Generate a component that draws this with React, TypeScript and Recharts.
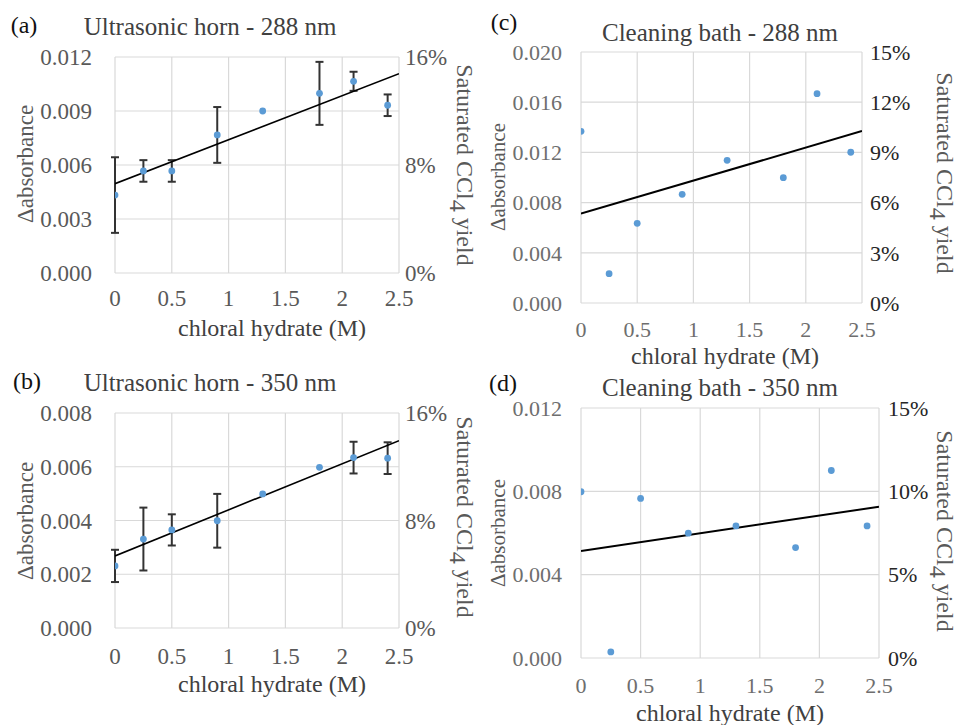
import React from 'react';
import { ComposedChart, Scatter, Line, XAxis, YAxis, CartesianGrid, ErrorBar } from 'recharts';

// chloral hydrate concentrations (M), shared by all four panels
const CONC = [0, 0.25, 0.5, 0.9, 1.3, 1.8, 2.1, 2.4];
const X_TICKS = [0, 0.5, 1, 1.5, 2, 2.5];
const TREND_X = [0, 2.5];

// (a) ultrasonic horn, 288 nm
const HORN_288 = [0.00433, 0.00567, 0.00567, 0.00767, 0.009, 0.00998, 0.01065, 0.00932];
const HORN_288_ERR = [0.0021, 0.0006, 0.0006, 0.00155, 0, 0.00175, 0.00053, 0.0006];
const HORN_288_TREND = [0.00496, 0.01107];
const HORN_288_TICKS = [0, 0.003, 0.006, 0.009, 0.012];

// (b) ultrasonic horn, 350 nm
const HORN_350 = [0.00231, 0.00331, 0.00365, 0.00399, 0.00499, 0.00598, 0.00634, 0.00632];
const HORN_350_ERR = [0.0006, 0.00117, 0.00058, 0.001, 0, 0, 0.00059, 0.00059];
const HORN_350_TREND = [0.00268, 0.00697];
const HORN_350_TICKS = [0, 0.002, 0.004, 0.006, 0.008];

const HORN_YIELD_TICKS = [0, 0.08, 0.16];

// (c) cleaning bath, 288 nm
const BATH_288 = [0.01368, 0.00234, 0.00635, 0.00866, 0.01137, 0.00999, 0.01668, 0.01201];
const BATH_288_TREND = [0.00712, 0.0137];
const BATH_288_TICKS = [0, 0.004, 0.008, 0.012, 0.016, 0.02];
const BATH_288_YIELD_TICKS = [0, 0.03, 0.06, 0.09, 0.12, 0.15];

// (d) cleaning bath, 350 nm
const BATH_350 = [0.00798, 0.00029, 0.00766, 0.00599, 0.00634, 0.0053, 0.009, 0.00634];
const BATH_350_TREND = [0.00514, 0.00726];
const BATH_350_TICKS = [0, 0.004, 0.008, 0.012];
const BATH_350_YIELD_TICKS = [0, 0.05, 0.1, 0.15];

const SERIF = '"Liberation Serif", "DejaVu Serif", serif';
const DOT = '#5b9bd5';
const GRID = '#d9d9d9';

type Box = { x: number; y: number; w: number; h: number };
type Plot = { left: number; top: number; right: number; bottom: number };

interface PanelProps {
  box: Box;
  plot: Plot;
  values: number[];
  errors?: number[];
  trend: number[];
  yTicks: number[];
  yieldTicks: number[];
  fontSize: number;
  leftColor: string;
  rightColor: string;
  leftGap: number;
  rightGap: number;
  xGap: number;
  lineWidth: number;
}

const dotShape = (p: any) => <circle cx={p.cx} cy={p.cy} r={3.4} fill={DOT} />;

const Panel: React.FC<PanelProps> = ({
  box, plot, values, errors, trend, yTicks, yieldTicks, fontSize,
  leftColor, rightColor, leftGap, rightGap, xGap, lineWidth,
}) => {
  const points = CONC.map((x, i) => ({ x, y: values[i], err: errors ? errors[i] : 0 }));
  const trendPts = TREND_X.map((x, i) => ({ x, y: trend[i] }));
  const tickStyle = (fill: string) => ({ fill, fontSize, fontFamily: SERIF });

  return (
    <div style={{ position: 'absolute', left: box.x, top: box.y }}>
      <ComposedChart
        width={box.w}
        height={box.h}
        margin={{ top: plot.top - box.y, left: 0, right: 0, bottom: 0 }}
        style={{ fontFamily: SERIF }}
      >
        <CartesianGrid yAxisId="abs" stroke={GRID} strokeWidth={1.2} />
        <XAxis
          type="number"
          dataKey="x"
          domain={[0, 2.5]}
          ticks={X_TICKS}
          interval={0}
          axisLine={false}
          tickLine={false}
          tickSize={0}
          tickMargin={xGap}
          height={box.y + box.h - plot.bottom}
          tick={tickStyle(leftColor)}
          allowDataOverflow
        />
        <YAxis
          yAxisId="abs"
          domain={[0, yTicks[yTicks.length - 1]]}
          ticks={yTicks}
          interval={0}
          width={plot.left - box.x}
          axisLine={false}
          tickLine={false}
          tickSize={0}
          tickMargin={leftGap}
          tick={tickStyle(leftColor)}
          tickFormatter={(v: number) => v.toFixed(3)}
          allowDataOverflow
        />
        <YAxis
          yAxisId="yield"
          orientation="right"
          domain={[0, yieldTicks[yieldTicks.length - 1]]}
          ticks={yieldTicks}
          interval={0}
          width={box.x + box.w - plot.right}
          axisLine={false}
          tickLine={false}
          tickSize={0}
          tickMargin={rightGap}
          tick={tickStyle(rightColor)}
          tickFormatter={(v: number) => `${Math.round(v * 100)}%`}
          allowDataOverflow
        />
        <Scatter yAxisId="abs" data={points} dataKey="y" fill={DOT} shape={dotShape} isAnimationActive={false}>
          {errors && <ErrorBar dataKey="err" direction="y" width={4} stroke="#333" strokeWidth={2} />}
        </Scatter>
        <Line
          yAxisId="abs"
          data={trendPts}
          dataKey="y"
          stroke="#000"
          strokeWidth={lineWidth}
          dot={false}
          activeDot={false}
          isAnimationActive={false}
        />
      </ComposedChart>
    </div>
  );
};

const Txt: React.FC<{ x: number; y: number; size: number; color: string; rotate?: number; children: React.ReactNode }> = ({
  x, y, size, color, rotate = 0, children,
}) => (
  <div
    style={{
      position: 'absolute',
      left: x,
      top: y,
      transform: `translate(-50%, -50%) rotate(${rotate}deg)`,
      whiteSpace: 'nowrap',
      fontFamily: SERIF,
      fontSize: size,
      color,
      lineHeight: 1,
    }}
  >
    {children}
  </div>
);

const YieldTitle = () => (
  <>
    Saturated CCl<span style={{ position: 'relative', top: '0.3em' }}>4</span> yield
  </>
);

export default function App() {
  return (
    <div style={{ position: 'absolute', left: 0, top: 0, width: 959, height: 725, background: '#fff', overflow: 'hidden' }}>
      <Panel
        box={{ x: 0, y: 0, w: 480, h: 340 }}
        plot={{ left: 115, top: 57, right: 399, bottom: 273 }}
        values={HORN_288}
        errors={HORN_288_ERR}
        trend={HORN_288_TREND}
        yTicks={HORN_288_TICKS}
        yieldTicks={HORN_YIELD_TICKS}
        fontSize={23}
        leftColor="#595959"
        rightColor="#595959"
        leftGap={23}
        rightGap={6}
        xGap={17}
        lineWidth={1.6}
      />
      <Panel
        box={{ x: 0, y: 360, w: 480, h: 340 }}
        plot={{ left: 115, top: 413, right: 399, bottom: 628 }}
        values={HORN_350}
        errors={HORN_350_ERR}
        trend={HORN_350_TREND}
        yTicks={HORN_350_TICKS}
        yieldTicks={HORN_YIELD_TICKS}
        fontSize={23}
        leftColor="#595959"
        rightColor="#595959"
        leftGap={23}
        rightGap={6}
        xGap={20}
        lineWidth={1.6}
      />
      <Panel
        box={{ x: 480, y: 0, w: 479, h: 345 }}
        plot={{ left: 581, top: 52, right: 862, bottom: 303 }}
        values={BATH_288}
        trend={BATH_288_TREND}
        yTicks={BATH_288_TICKS}
        yieldTicks={BATH_288_YIELD_TICKS}
        fontSize={22}
        leftColor="#6e6e6e"
        rightColor="#262626"
        leftGap={19}
        rightGap={8}
        xGap={18}
        lineWidth={2}
      />
      <Panel
        box={{ x: 480, y: 360, w: 479, h: 365 }}
        plot={{ left: 581, top: 408, right: 879, bottom: 658 }}
        values={BATH_350}
        trend={BATH_350_TREND}
        yTicks={BATH_350_TICKS}
        yieldTicks={BATH_350_YIELD_TICKS}
        fontSize={22}
        leftColor="#6e6e6e"
        rightColor="#262626"
        leftGap={19}
        rightGap={9}
        xGap={19}
        lineWidth={2}
      />

      {/* panel letters and titles */}
      <Txt x={24} y={25} size={24} color="#111">(a)</Txt>
      <Txt x={27} y={381} size={24} color="#111">(b)</Txt>
      <Txt x={504} y={22} size={24} color="#111">(c)</Txt>
      <Txt x={503} y={383} size={24} color="#111">(d)</Txt>
      <Txt x={210} y={26} size={25} color="#404040">Ultrasonic horn - 288 nm</Txt>
      <Txt x={210} y={382} size={25} color="#404040">Ultrasonic horn - 350 nm</Txt>
      <Txt x={720} y={32} size={25} color="#404040">Cleaning bath - 288 nm</Txt>
      <Txt x={720} y={387} size={25} color="#404040">Cleaning bath - 350 nm</Txt>

      {/* x axis titles */}
      <Txt x={272} y={328} size={24} color="#404040">chloral hydrate (M)</Txt>
      <Txt x={272} y={684} size={24} color="#404040">chloral hydrate (M)</Txt>
      <Txt x={725} y={356} size={24} color="#404040">chloral hydrate (M)</Txt>
      <Txt x={730} y={713} size={24} color="#404040">chloral hydrate (M)</Txt>

      {/* left axis titles */}
      <Txt x={25} y={164} size={23} color="#595959" rotate={-90}>Δabsorbance</Txt>
      <Txt x={25} y={521} size={23} color="#595959" rotate={-90}>Δabsorbance</Txt>
      <Txt x={498} y={177} size={21} color="#595959" rotate={-90}>Δabsorbance</Txt>
      <Txt x={498} y={533} size={21} color="#595959" rotate={-90}>Δabsorbance</Txt>

      {/* right axis titles */}
      <Txt x={465} y={165} size={24} color="#595959" rotate={90}><YieldTitle /></Txt>
      <Txt x={465} y={517} size={24} color="#595959" rotate={90}><YieldTitle /></Txt>
      <Txt x={945} y={173} size={24} color="#595959" rotate={90}><YieldTitle /></Txt>
      <Txt x={945} y={531} size={24} color="#595959" rotate={90}><YieldTitle /></Txt>
    </div>
  );
}
